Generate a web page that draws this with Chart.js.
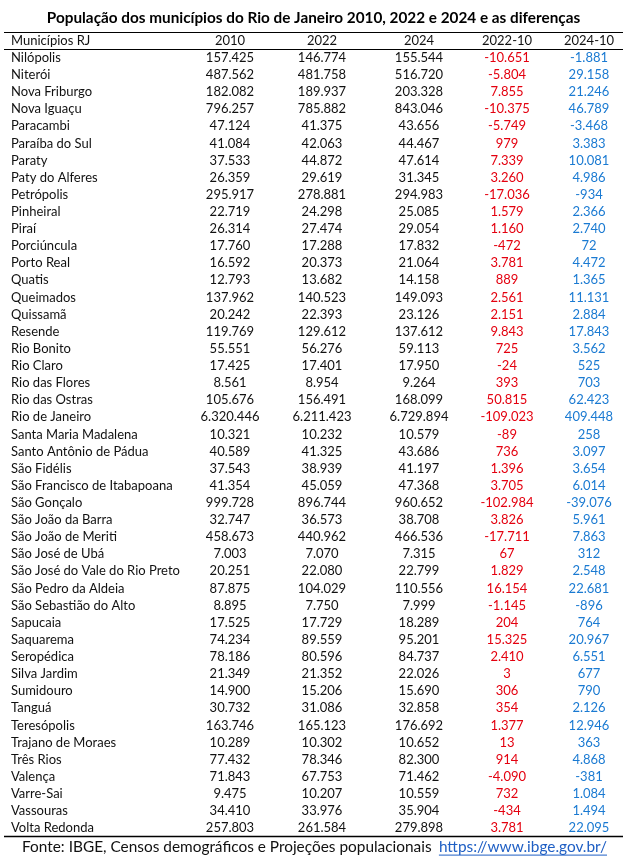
<!DOCTYPE html>
<html>
<head>
<meta charset="utf-8">
<script src="https://cdn.jsdelivr.net/npm/chart.js@4.4.1/dist/chart.umd.min.js"></script>
<style>
  html, body { margin: 0; padding: 0; background: #fff; }
  #wrap { width: 627px; height: 857px; position: relative; }
</style>
</head>
<body>
<div id="wrap"><canvas id="tabela"></canvas></div>
<script>
// dados (IBGE) — leitura da tabela
const headers = ['Municípios RJ', '2010', '2022', '2024', '2022-10', '2024-10'];

const municipios = [
  'Nilópolis', 'Niterói', 'Nova Friburgo', 'Nova Iguaçu', 'Paracambi', 'Paraíba do Sul',
  'Paraty', 'Paty do Alferes', 'Petrópolis', 'Pinheiral', 'Piraí', 'Porciúncula',
  'Porto Real', 'Quatis', 'Queimados', 'Quissamã', 'Resende', 'Rio Bonito', 'Rio Claro',
  'Rio das Flores', 'Rio das Ostras', 'Rio de Janeiro', 'Santa Maria Madalena',
  'Santo Antônio de Pádua', 'São Fidélis', 'São Francisco de Itabapoana', 'São Gonçalo',
  'São João da Barra', 'São João de Meriti', 'São José de Ubá', 'São José do Vale do Rio Preto',
  'São Pedro da Aldeia', 'São Sebastião do Alto', 'Sapucaia', 'Saquarema', 'Seropédica',
  'Silva Jardim', 'Sumidouro', 'Tanguá', 'Teresópolis', 'Trajano de Moraes', 'Três Rios',
  'Valença', 'Varre-Sai', 'Vassouras', 'Volta Redonda'
];

const pop2010 = [
  157425, 487562, 182082, 796257, 47124, 41084, 37533, 26359, 295917, 22719, 26314, 17760,
  16592, 12793, 137962, 20242, 119769, 55551, 17425, 8561, 105676, 6320446, 10321,
  40589, 37543, 41354, 999728, 32747, 458673, 7003, 20251, 87875, 8895, 17525, 74234, 78186,
  21349, 14900, 30732, 163746, 10289, 77432, 71843, 9475, 34410, 257803
];

const pop2022 = [
  146774, 481758, 189937, 785882, 41375, 42063, 44872, 29619, 278881, 24298, 27474, 17288,
  20373, 13682, 140523, 22393, 129612, 56276, 17401, 8954, 156491, 6211423, 10232,
  41325, 38939, 45059, 896744, 36573, 440962, 7070, 22080, 104029, 7750, 17729, 89559, 80596,
  21352, 15206, 31086, 165123, 10302, 78346, 67753, 10207, 33976, 261584
];

const pop2024 = [
  155544, 516720, 203328, 843046, 43656, 44467, 47614, 31345, 294983, 25085, 29054, 17832,
  21064, 14158, 149093, 23126, 137612, 59113, 17950, 9264, 168099, 6729894, 10579,
  43686, 41197, 47368, 960652, 38708, 466536, 7315, 22799, 110556, 7999, 18289, 95201, 84737,
  22026, 15690, 32858, 176692, 10652, 82300, 71462, 10559, 35904, 279898
];

const dif2022 = [
  -10651, -5804, 7855, -10375, -5749, 979, 7339, 3260, -17036, 1579, 1160, -472,
  3781, 889, 2561, 2151, 9843, 725, -24, 393, 50815, -109023, -89,
  736, 1396, 3705, -102984, 3826, -17711, 67, 1829, 16154, -1145, 204, 15325, 2410,
  3, 306, 354, 1377, 13, 914, -4090, 732, -434, 3781
];

const dif2024 = [
  -1881, 29158, 21246, 46789, -3468, 3383, 10081, 4986, -934, 2366, 2740, 72,
  4472, 1365, 11131, 2884, 17843, 3562, 525, 703, 62423, 409448, 258,
  3097, 3654, 6014, -39076, 5961, 7863, 312, 2548, 22681, -896, 764, 20967, 6551,
  677, 790, 2126, 12946, 363, 4868, -381, 1084, 1494, 22095
];

// layout
const FONT = 'Lato, "Open Sans", sans-serif';
const NAME_X = 11;
const COL_X = [230, 322, 419, 507, 589];
const INK = '#111111';
const RED = '#e4000f';
const BLUE = '#1a7ad2';

function fmt(n) {
  const s = Math.abs(n).toString().replace(/\B(?=(\d{3})+(?!\d))/g, '.');
  return (n < 0 ? '-' : '') + s;
}

const colunas = [
  { values: pop2010, color: INK },
  { values: pop2022, color: INK },
  { values: pop2024, color: INK },
  { values: dif2022, color: RED },
  { values: dif2024, color: BLUE },
];

const rows = [headers[0], ...municipios];

const tablePlugin = {
  id: 'tableText',
  afterDatasetsDraw(chart) {
    const { ctx, chartArea, scales } = chart;
    const x = scales.x, y = scales.y;
    ctx.save();
    ctx.font = '13px ' + FONT;
    ctx.textBaseline = 'middle';

    // header row
    const yh = y.getPixelForValue(0);
    ctx.fillStyle = INK;
    ctx.textAlign = 'left';
    ctx.fillText(headers[0], x.getPixelForValue(NAME_X), yh);
    ctx.textAlign = 'center';
    COL_X.forEach((cx, k) => ctx.fillText(headers[k + 1], x.getPixelForValue(cx), yh));

    // names
    ctx.textAlign = 'left';
    municipios.forEach((m, i) => {
      ctx.fillText(m, x.getPixelForValue(NAME_X), y.getPixelForValue(i + 1));
    });

    // numbers
    ctx.textAlign = 'center';
    chart.data.datasets.forEach((ds, d) => {
      const meta = chart.getDatasetMeta(d);
      ctx.fillStyle = ds.textColor;
      meta.data.forEach((pt, i) => {
        ctx.fillText(fmt(ds.data[i].v), pt.x, pt.y);
      });
    });

    // rules
    ctx.strokeStyle = '#000';
    ctx.lineWidth = 1;
    const sep = (y.getPixelForValue(0) + y.getPixelForValue(1)) / 2;
    [chartArea.top, sep].forEach(py => {
      ctx.beginPath();
      ctx.moveTo(chartArea.left + 4, Math.round(py) + 0.5);
      ctx.lineTo(chartArea.right - 4, Math.round(py) + 0.5);
      ctx.stroke();
    });
    ctx.lineWidth = 1.5;
    ctx.beginPath();
    ctx.moveTo(chartArea.left + 4, chartArea.bottom);
    ctx.lineTo(chartArea.right - 4, chartArea.bottom);
    ctx.stroke();

    // fonte
    const fy = chartArea.bottom + 10;
    ctx.font = '15.4px ' + FONT;
    ctx.fillStyle = INK;
    ctx.textAlign = 'left';
    ctx.fillText('Fonte: IBGE, Censos demográficos e Projeções populacionais', 22, fy);
    const link = 'https://www.ibge.gov.br/';
    ctx.fillStyle = '#1f5fc4';
    ctx.textAlign = 'right';
    ctx.fillText(link, 607, fy);
    const w = ctx.measureText(link).width;
    ctx.strokeStyle = '#1f5fc4';
    ctx.lineWidth = 1;
    ctx.beginPath();
    ctx.moveTo(607 - w, fy + 8.5);
    ctx.lineTo(607, fy + 8.5);
    ctx.stroke();
    ctx.restore();
  }
};

new Chart(document.getElementById('tabela'), {
  type: 'scatter',
  data: {
    datasets: colunas.map((c, k) => ({
      label: headers[k + 1],
      textColor: c.color,
      data: c.values.map((v, i) => ({ x: COL_X[k], y: municipios[i], v })),
      pointRadius: 0,
      pointHoverRadius: 0,
      pointHitRadius: 0,
    })),
  },
  options: {
    responsive: true,
    maintainAspectRatio: false,
    animation: false,
    layout: { padding: { top: 0, left: 0, right: 0, bottom: 20.4 } },
    plugins: {
      legend: { display: false },
      tooltip: { enabled: false },
      title: {
        display: true,
        text: 'População dos municípios do Rio de Janeiro 2010, 2022 e 2024 e as diferenças',
        color: '#000',
        font: { family: FONT, size: 15.3, weight: 'bold' },
        padding: { top: 8.6, bottom: 5.1 },
      },
    },
    scales: {
      x: { type: 'linear', min: 0, max: 627, display: false },
      y: { type: 'category', labels: rows, offset: true, display: false },
    },
  },
  plugins: [tablePlugin],
});
</script>
</body>
</html>
